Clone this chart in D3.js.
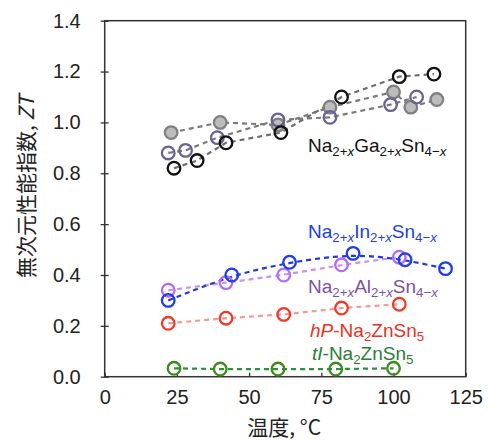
<!DOCTYPE html>
<html>
<head>
<meta charset="utf-8">
<script src="https://cdn.jsdelivr.net/npm/d3@7"></script>
<style>
  body { margin: 0; background: #fff; }
  svg { display: block; font-family: "Liberation Sans", Arial, sans-serif; }
  .tick text { font-size: 20px; fill: #222; }
</style>
</head>
<body>
<div id="chart"></div>
<script>
// axis ticks
const xTicks = [0, 25, 50, 75, 100, 125];
const yTicks = [0, 0.2, 0.4, 0.6, 0.8, 1.0, 1.2, 1.4];

// Na2+xGa2+xSn4-x samples (temperature in C, ZT)
const gaBlackT = [24, 32, 42, 61, 82, 102, 114];
const gaBlackZT = [0.82, 0.85, 0.92, 0.96, 1.10, 1.18, 1.19];
const gaGrayT = [23, 40, 60, 78, 100, 106, 115];
const gaGrayZT = [0.96, 1.00, 0.99, 1.06, 1.12, 1.06, 1.09];
const gaSlateT = [22, 28, 39, 60, 78, 99, 108];
const gaSlateZT = [0.88, 0.89, 0.94, 1.01, 1.02, 1.07, 1.10];

// Na2+xIn2+xSn4-x
const inT = [22, 44, 64, 86, 104, 118];
const inZT = [0.30, 0.40, 0.45, 0.485, 0.46, 0.425];
// Na2+xAl2+xSn4-x
const alT = [22, 42, 62, 82, 102];
const alZT = [0.34, 0.37, 0.40, 0.44, 0.47];
// hP-Na2ZnSn5
const hpT = [22, 42, 62, 82, 102];
const hpZT = [0.21, 0.23, 0.245, 0.27, 0.285];
// tI-Na2ZnSn5
const tiT = [24, 40, 60, 80, 100];
const tiZT = [0.033, 0.03, 0.03, 0.03, 0.033];

const width = 489, height = 441;
const margin = { top: 20.7, right: 23.3, bottom: 64.3, left: 104.7 };

const svg = d3.select("#chart").append("svg")
    .attr("width", width)
    .attr("height", height);

const x = d3.scaleLinear().domain([0, 125]).range([margin.left, width - margin.right]);
const y = d3.scaleLinear().domain([0, 1.4]).range([height - margin.bottom, margin.top]);

const zip = (a, b) => a.map((v, i) => [v, b[i]]);

const series = [
    { data: zip(gaGrayT, gaGrayZT), line: "#7a7a7a", stroke: "#808080", fill: "#bcbcbc", curve: d3.curveLinear },
    { data: zip(gaSlateT, gaSlateZT), line: "#7a7a7a", stroke: "#6a6290", fill: "none", curve: d3.curveLinear },
    { data: zip(gaBlackT, gaBlackZT), line: "#6e6e6e", stroke: "#111", fill: "none", curve: d3.curveLinear },
    { data: zip(tiT, tiZT), line: "#2f8f3a", stroke: "#3f8a1c", fill: "none", curve: d3.curveLinear },
    { data: zip(hpT, hpZT), line: "#f49a8e", stroke: "#f03a28", fill: "none", curve: d3.curveLinear },
    { data: zip(alT, alZT), line: "#c890f4", stroke: "#b46cf0", fill: "none", curve: d3.curveBasis },
    { data: zip(inT, inZT), line: "#2238d8", stroke: "#1e3ee6", fill: "none", curve: d3.curveBasis }
];

// frame
svg.append("rect")
    .attr("x", x(0)).attr("y", y(1.4))
    .attr("width", x(125) - x(0)).attr("height", y(0) - y(1.4))
    .attr("fill", "none").attr("stroke", "#333").attr("stroke-width", 1.5);

// axes
const yAxis = svg.append("g")
    .attr("transform", `translate(${x(0)},0)`)
    .call(d3.axisLeft(y).tickValues(yTicks).tickFormat(d3.format(".1f")).tickSize(4).tickPadding(20));
yAxis.select(".domain").remove();
yAxis.selectAll(".tick line").attr("x1", 4).attr("x2", -4).attr("stroke", "#333").attr("stroke-width", 1.3);

const xAxis = svg.append("g")
    .attr("transform", `translate(0,${y(0)})`)
    .call(d3.axisBottom(x).tickValues(xTicks).tickSize(-4).tickPadding(12));
xAxis.select(".domain").remove();
xAxis.selectAll(".tick line").attr("stroke", "#333").attr("stroke-width", 1.3);
xAxis.selectAll(".tick text").attr("dy", "0.71em").attr("y", 13);

// series
series.forEach(s => {
    svg.append("path")
        .datum(s.data)
        .attr("fill", "none")
        .attr("stroke", s.line)
        .attr("stroke-width", 2.2)
        .attr("stroke-dasharray", "5,4")
        .attr("d", d3.line().x(d => x(d[0])).y(d => y(d[1])).curve(s.curve));
});
series.forEach(s => {
    svg.append("g").selectAll("circle")
        .data(s.data)
        .enter()
        .append("circle")
        .attr("cx", d => x(d[0]))
        .attr("cy", d => y(d[1]))
        .attr("r", 6.3)
        .attr("fill", s.fill)
        .attr("stroke", s.stroke)
        .attr("stroke-width", 2.3);
});

// labels with subscripts
const label = (px, py, color, parts, size) => {
    const t = svg.append("text")
        .attr("x", px).attr("y", py)
        .attr("fill", color)
        .attr("font-size", size);
    let shift = 0;
    parts.forEach(p => {
        const sub = p.sub ? 4 : 0;
        const ts = t.append("tspan")
            .attr("dy", sub - shift)
            .attr("font-size", p.sub ? size * 0.7 : size)
            .attr("font-style", p.it ? "italic" : "normal")
            .text(p.t);
        shift = sub;
    });
};
const formula = (el) => [
    { t: "Na" }, { t: "2+", sub: true }, { t: "x", sub: true, it: true },
    { t: el }, { t: "2+", sub: true }, { t: "x", sub: true, it: true },
    { t: "Sn" }, { t: "4\u2212", sub: true }, { t: "x", sub: true, it: true }
];
label(308, 152, "#111", formula("Ga"), 19);
label(308, 238, "#1f3ee0", formula("In"), 19);
label(308, 293, "#8050a8", formula("Al"), 19);
label(310, 337, "#e8321e", [
    { t: "hP", it: true }, { t: "-Na" }, { t: "2", sub: true }, { t: "ZnSn" }, { t: "5", sub: true }
], 19);
label(312, 360, "#2a7d38", [
    { t: "tI", it: true }, { t: "-Na" }, { t: "2", sub: true }, { t: "ZnSn" }, { t: "5", sub: true }
], 19);

// axis titles
svg.append("text")
    .attr("x", (x(0) + x(125)) / 2 - 1)
    .attr("y", 435)
    .attr("text-anchor", "middle")
    .attr("font-family", "'Noto Sans CJK JP', sans-serif")
    .attr("font-size", 21)
    .attr("fill", "#222")
    .text("温度, °C");

const yt = svg.append("text")
    .attr("transform", `translate(34,${(y(0) + y(1.4)) / 2 - 12}) rotate(-90)`)
    .attr("text-anchor", "middle")
    .attr("font-family", "'Noto Sans CJK JP', sans-serif")
    .attr("font-size", 21)
    .attr("fill", "#222");
yt.append("tspan").text("無次元性能指数, ");
yt.append("tspan").attr("font-style", "italic").text("ZT");
</script>
</body>
</html>
